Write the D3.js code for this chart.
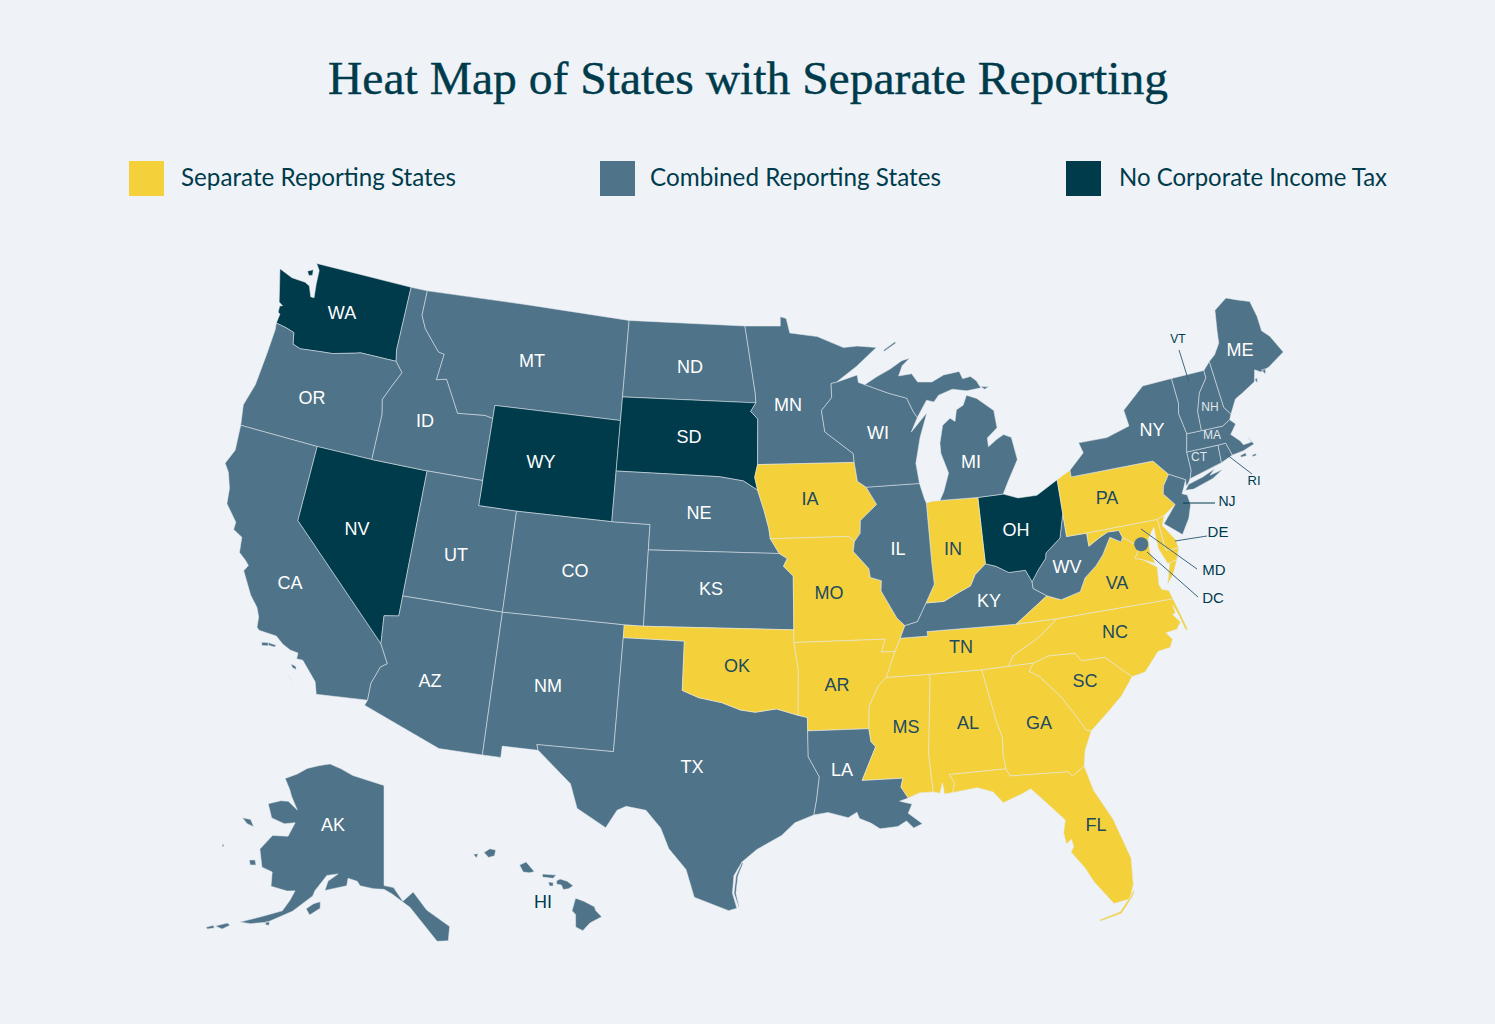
<!DOCTYPE html>
<html>
<head>
<meta charset="utf-8">
<script src="https://cdn.jsdelivr.net/npm/d3@7"></script>
<style>
  html, body { margin: 0; padding: 0; background: #eff3f8; }
</style>
</head>
<body>
<div id="chart"></div>
<script>
// tax groups
var separateStates = ["IA","IN","PA","MO","AR","OK","MS","AL","GA","FL","TN","SC","NC","VA","MD","DE"];
var combinedStates = ["OR","CA","ID","MT","UT","CO","AZ","NM","TX","ND","NE","KS","MN","WI","IL","MI","KY","WV","LA","NY","NJ","VT","NH","MA","CT","RI","ME","AK","HI","DC"];
var noTaxStates = ["WA","NV","WY","SD","OH"];

var legendLabels = ["Separate Reporting States","Combined Reporting States","No Corporate Income Tax"];
var titleText = "Heat Map of States with Separate Reporting";

// state outlines, lon/lat
var WA = [[-122.76,49],[-117.03,49],[-117.04,46.42],[-116.92,45.99],[-118.98,46],[-119.3,45.93],[-120.5,45.7],[-121.2,45.65],[-122.3,45.55],[-122.76,45.65],[-122.9,46.1],[-123.4,46.2],[-124,46.27],[-123.95,46.65],[-124.08,46.7],[-124.1,46.95],[-123.95,47],[-124.2,47.1],[-124.4,47.6],[-124.73,48.38],[-123.9,48.17],[-123.1,48.15],[-122.8,48.05],[-122.55,47.65],[-122.35,47.65],[-122.45,48.2],[-122.5,48.75]];
var WA_SANJUAN = [[-123.15,48.6],[-122.85,48.72],[-122.8,48.5],[-123,48.45]];
var OR = [[-124,46.27],[-123.4,46.2],[-122.9,46.1],[-122.76,45.65],[-122.3,45.55],[-121.2,45.65],[-120.5,45.7],[-119.3,45.93],[-118.98,46],[-116.92,45.99],[-116.46,45.6],[-116.85,45],[-117.2,44.4],[-117.03,43.83],[-117.03,42],[-120,42],[-124.21,42],[-124.4,42.8],[-124.1,43.7],[-124,45],[-123.95,46]];
var CA = [[-124.21,42],[-120,42],[-120,39],[-114.63,35],[-114.14,34.27],[-114.43,34.1],[-114.72,33.4],[-114.72,32.72],[-117.12,32.53],[-117.3,33],[-118.1,33.72],[-118.4,33.72],[-118.4,33.95],[-118.8,34],[-119.2,34.15],[-119.6,34.4],[-120.47,34.45],[-120.6,34.55],[-120.65,34.95],[-120.85,35.3],[-121.3,35.7],[-121.95,36.55],[-121.8,36.8],[-122,36.96],[-122.4,37.2],[-122.5,37.8],[-123,38],[-123,38.3],[-123.7,38.9],[-123.8,39.5],[-124.1,40.1],[-124.4,40.4],[-124.1,41]];
var CA_SANTACRUZ = [[-120.2,34.02],[-119.9,34.07],[-119.85,33.95],[-120.15,33.9]];
var CA_SANTAROSA = [[-119.9,34.07],[-119.5,34.05],[-119.55,33.97],[-119.85,33.97]];
var CA_CATALINA = [[-118.6,33.48],[-118.35,33.42],[-118.3,33.3],[-118.5,33.35]];
var CA_CLEMENTE = [[-118.6,33.03],[-118.4,32.85],[-118.35,32.8],[-118.55,32.98]];
var NV = [[-120,42],[-117.03,42],[-114.04,42],[-114.04,37],[-114.04,36.2],[-114.75,36.1],[-114.63,35],[-120,39]];
var ID = [[-117.03,49],[-116.05,49],[-116.05,48],[-115.7,47.5],[-114.7,46.7],[-114.35,46.65],[-114.5,45.6],[-113.95,45.7],[-113.45,45.05],[-113,44.45],[-111.5,44.55],[-111.05,44.48],[-111.05,42],[-114.04,42],[-117.03,42],[-117.03,43.83],[-117.2,44.4],[-116.85,45],[-116.46,45.6],[-116.92,45.99],[-117.04,46.42]];
var MT = [[-116.05,49],[-104.05,49],[-104.05,45.94],[-104.05,45],[-111.05,45],[-111.05,44.48],[-111.5,44.55],[-113,44.45],[-113.45,45.05],[-113.95,45.7],[-114.5,45.6],[-114.35,46.65],[-114.7,46.7],[-115.7,47.5],[-116.05,48]];
var WY = [[-111.05,45],[-104.05,45],[-104.05,43],[-104.05,41],[-109.05,41],[-111.05,41]];
var UT = [[-114.04,42],[-111.05,42],[-111.05,41],[-109.05,41],[-109.05,37],[-114.04,37]];
var CO = [[-109.05,41],[-104.05,41],[-102.05,41],[-102.05,40],[-102.05,37],[-103,37],[-109.05,37]];
var AZ = [[-114.04,37],[-109.05,37],[-109.05,31.33],[-111.07,31.33],[-114.81,32.5],[-114.72,32.72],[-114.72,33.4],[-114.43,34.1],[-114.14,34.27],[-114.63,35],[-114.75,36.1],[-114.04,36.2]];
var NM = [[-109.05,37],[-103,37],[-103,36.5],[-103.06,32],[-106.62,32],[-106.53,31.78],[-108.2,31.78],[-108.2,31.33],[-109.05,31.33]];
var TX = [[-106.62,32],[-103.06,32],[-103,36.5],[-100,36.5],[-100,34.56],[-99.2,34.3],[-98.1,34.13],[-97.2,33.85],[-96.5,33.77],[-95.5,33.9],[-94.48,33.64],[-94.04,33.55],[-94.04,33.02],[-94.04,32],[-93.55,31.2],[-93.7,30.3],[-93.84,29.7],[-94.7,29.4],[-95.3,28.9],[-96.4,28.35],[-97.05,27.85],[-97.4,27.3],[-97.45,26.6],[-97.25,26],[-97.6,25.9],[-99.1,26.4],[-99.5,27.5],[-100.3,28.3],[-100.7,29.1],[-101.4,29.77],[-102.3,29.88],[-102.7,29.7],[-103.15,28.98],[-104.5,29.65],[-104.9,30.6],[-106.53,31.78]];
var TX_PADRE = [[-97.05,27.82],[-97.3,27.3],[-97.38,26.6],[-97.17,26.05],[-97.15,26.05],[-97.3,26.6],[-97.22,27.3],[-97,27.8]];
var ND = [[-104.05,49],[-97.23,49],[-96.6,46.33],[-96.56,45.94],[-104.05,45.94]];
var SD = [[-104.05,45.94],[-96.56,45.94],[-96.85,45.6],[-96.45,45.3],[-96.45,43.5],[-96.6,43],[-96.44,42.49],[-97.2,42.85],[-98.5,43],[-104.05,43]];
var NE = [[-104.05,43],[-98.5,43],[-97.2,42.85],[-96.44,42.49],[-96.1,41.7],[-95.85,41],[-95.77,40.58],[-95.31,40],[-102.05,40],[-102.05,41],[-104.05,41]];
var KS = [[-102.05,40],[-95.31,40],[-94.9,39.8],[-95.1,39.5],[-94.61,39.11],[-94.62,37],[-102.05,37]];
var OK = [[-103,37],[-102.05,37],[-94.62,37],[-94.62,36.5],[-94.43,35.4],[-94.48,33.64],[-95.5,33.9],[-96.5,33.77],[-97.2,33.85],[-98.1,34.13],[-99.2,34.3],[-100,34.56],[-100,36.5],[-103,36.5]];
var MN = [[-97.23,49],[-95.15,49],[-95.15,49.38],[-94.8,49.3],[-94.6,48.72],[-93,48.55],[-91.5,48.07],[-90.7,48.1],[-89.6,48],[-90.8,47.3],[-92,46.7],[-92.3,46.66],[-92.3,46.1],[-92.9,45.6],[-92.75,44.75],[-91.25,43.85],[-91.22,43.5],[-96.45,43.5],[-96.45,45.3],[-96.85,45.6],[-96.56,45.94],[-96.6,46.33]];
var MI_ROYALE = [[-89.2,47.87],[-88.5,48.17],[-88.45,48.12],[-89.15,47.83]];
var IA = [[-96.45,43.5],[-91.22,43.5],[-91.1,42.75],[-90.65,42.5],[-90.15,41.8],[-91.05,41.2],[-91.1,40.7],[-91.42,40.38],[-91.7,40.6],[-95.77,40.58],[-95.85,41],[-96.1,41.7],[-96.44,42.49],[-96.6,43]];
var MO = [[-95.77,40.58],[-91.7,40.6],[-91.42,40.38],[-91.5,40],[-90.75,39.3],[-90.7,38.95],[-90.15,38.8],[-90.2,38.4],[-89.5,37.3],[-89.13,36.98],[-89.4,36.5],[-89.7,36],[-90.37,36],[-90.15,36.5],[-94.62,36.5],[-94.62,37],[-94.61,39.11],[-95.1,39.5],[-94.9,39.8],[-95.31,40]];
var AR = [[-94.62,36.5],[-90.15,36.5],[-90.37,36],[-89.7,36],[-90.2,35],[-90.6,34.7],[-91.1,33.9],[-91.17,33.02],[-94.04,33.02],[-94.04,33.55],[-94.48,33.64],[-94.43,35.4]];
var LA = [[-94.04,33.02],[-91.17,33.02],[-91.1,32.5],[-90.9,32.3],[-91.6,31],[-89.73,31],[-89.85,30.65],[-89.55,30.2],[-89.95,30.1],[-89.4,29.95],[-89.6,29.6],[-89.2,29.3],[-89,29.15],[-89.4,29],[-89.7,29.3],[-90.1,29.1],[-90.9,29.05],[-91.3,29.3],[-91.8,29.5],[-91.9,29.75],[-92.3,29.55],[-93.2,29.78],[-93.84,29.7],[-93.7,30.3],[-93.55,31.2],[-94.04,32]];
var MS = [[-90.2,35],[-88.2,35],[-88.1,34.9],[-88.47,31.9],[-88.4,30.37],[-89,30.38],[-89.55,30.2],[-89.85,30.65],[-89.73,31],[-91.6,31],[-90.9,32.3],[-91.1,32.5],[-91.17,33.02],[-91.1,33.9],[-90.6,34.7]];
var AL = [[-88.2,35],[-85.6,34.98],[-85.18,32.87],[-85,32.3],[-85.05,31.55],[-85,31],[-87.6,31],[-87.4,30.65],[-87.52,30.28],[-87.9,30.25],[-87.95,30.7],[-88.1,30.3],[-88.4,30.37],[-88.47,31.9],[-88.1,34.9]];
var GA = [[-85.6,34.98],[-84.32,35],[-83.1,35],[-83.35,34.7],[-82.9,34.45],[-82,33.5],[-81.4,32.6],[-81.1,32.1],[-80.87,32.03],[-81.3,31.3],[-81.45,30.7],[-82.05,30.37],[-82.2,30.57],[-84.86,30.7],[-85,31],[-85.05,31.55],[-85,32.3],[-85.18,32.87]];
var FL = [[-87.6,31],[-85,31],[-84.86,30.7],[-82.2,30.57],[-82.05,30.37],[-81.45,30.7],[-81.2,29.7],[-80.55,28.45],[-80.05,26.8],[-80.15,25.75],[-80.4,25.2],[-81.1,25.12],[-81.8,26.1],[-82.1,26.7],[-82.6,27.4],[-82.45,27.6],[-82.5,27.9],[-82.75,27.75],[-82.8,28.2],[-82.65,28.7],[-83.4,29.5],[-84,30.1],[-84.4,29.95],[-85.3,29.68],[-85.7,30.15],[-86.4,30.38],[-87.52,30.28],[-87.4,30.65]];
var FL_KEYS = [[-80.2,25.5],[-80.35,25.3],[-80.9,24.75],[-81.8,24.56],[-81.8,24.5],[-80.85,24.68],[-80.3,25.25],[-80.15,25.48]];
var SC = [[-83.1,35],[-82.3,35.2],[-81.05,35.15],[-80.8,34.82],[-79.67,34.8],[-78.55,33.86],[-79.2,33.2],[-79.9,32.7],[-80.87,32.03],[-81.1,32.1],[-81.4,32.6],[-82,33.5],[-82.9,34.45],[-83.35,34.7]];
var NC = [[-75.87,36.55],[-81.68,36.59],[-82.6,36],[-84,35.4],[-84.32,35],[-83.1,35],[-82.3,35.2],[-81.05,35.15],[-80.8,34.82],[-79.67,34.8],[-78.55,33.86],[-77.9,33.95],[-77.1,34.65],[-76.5,34.7],[-76.3,35],[-76.55,35.3],[-76,35.35],[-75.75,35.6],[-76.05,35.95],[-75.9,36],[-75.95,36.3],[-75.8,36],[-75.6,35.3],[-75.55,35.22],[-75.5,35.3],[-75.7,36]];
var TN = [[-89.7,36],[-89.4,36.5],[-88.05,36.5],[-88.07,36.68],[-83.68,36.6],[-81.68,36.59],[-82.6,36],[-84,35.4],[-84.32,35],[-85.6,34.98],[-88.2,35],[-90.2,35]];
var KY = [[-89.4,36.5],[-89.13,36.98],[-88.5,37.1],[-88,37.8],[-87.1,37.8],[-86.3,38.1],[-85.7,38.3],[-85.4,38.73],[-84.82,39.1],[-84.3,38.95],[-83.7,38.65],[-82.85,38.65],[-82.6,38.17],[-82.6,37.9],[-81.97,37.54],[-83.68,36.6],[-88.07,36.68],[-88.05,36.5]];
var VA = [[-83.68,36.6],[-81.97,37.54],[-81.3,37.3],[-80.3,37.5],[-79.95,38],[-79.3,38.4],[-78.87,38.77],[-78.35,39.4],[-77.83,39.14],[-77.72,39.32],[-77.1,38.9],[-77.04,38.7],[-77.3,38.4],[-76.95,38.3],[-76.3,37.9],[-76.4,37.2],[-76.3,37],[-75.98,36.9],[-75.87,36.55],[-81.68,36.59]];
var VA_SHORE = [[-75.97,37.15],[-75.65,37.95],[-75.25,38.03],[-75.6,37.5]];
var WV = [[-82.6,38.17],[-82.2,38.6],[-81.75,39],[-81.7,39.2],[-80.87,39.7],[-80.52,40.64],[-80.52,39.72],[-79.48,39.72],[-79.48,39.2],[-78.9,39.45],[-78.4,39.62],[-77.83,39.6],[-77.72,39.32],[-77.83,39.14],[-78.35,39.4],[-78.87,38.77],[-79.3,38.4],[-79.95,38],[-80.3,37.5],[-81.3,37.3],[-81.97,37.54],[-82.6,37.9]];
var OH = [[-84.8,41.72],[-83.45,41.73],[-82.7,41.5],[-81.7,41.5],[-80.52,41.98],[-80.52,40.64],[-80.87,39.7],[-81.7,39.2],[-81.75,39],[-82.2,38.6],[-82.6,38.17],[-82.85,38.65],[-83.7,38.65],[-84.3,38.95],[-84.82,39.1]];
var IN = [[-87.53,41.71],[-87.2,41.76],[-86.8,41.76],[-84.8,41.72],[-84.82,39.1],[-85.4,38.73],[-85.7,38.3],[-86.3,38.1],[-87.1,37.8],[-88,37.8],[-87.5,38.5],[-87.53,39.35]];
var IL = [[-90.65,42.5],[-87.8,42.5],[-87.6,41.85],[-87.53,41.71],[-87.53,39.35],[-87.5,38.5],[-88,37.8],[-88.5,37.1],[-89.13,36.98],[-89.5,37.3],[-90.2,38.4],[-90.15,38.8],[-90.7,38.95],[-90.75,39.3],[-91.5,40],[-91.42,40.38],[-91.1,40.7],[-91.05,41.2],[-90.15,41.8]];
var WI = [[-92.3,46.66],[-92,46.7],[-91.2,46.87],[-90.8,46.95],[-90.75,46.65],[-90.4,46.55],[-89.1,46.15],[-88.1,45.9],[-87.8,45.35],[-87.6,45.1],[-88,44.55],[-87.05,45.25],[-87.55,44.3],[-87.9,43.3],[-87.8,42.5],[-90.65,42.5],[-91.1,42.75],[-91.22,43.5],[-91.25,43.85],[-92.75,44.75],[-92.9,45.6],[-92.3,46.1]];
var MI_LOWER = [[-86.8,41.76],[-84.8,41.72],[-83.45,41.73],[-83.1,42.2],[-82.45,43],[-82.6,43.9],[-83,44.05],[-83.4,43.9],[-83.9,43.65],[-83.9,44],[-83.3,44.35],[-83.35,45.05],[-84.2,45.6],[-84.75,45.78],[-85,45.4],[-85.4,45.25],[-85.55,44.8],[-85.8,44.95],[-86.25,44.7],[-86.5,44],[-86.5,43.6],[-86.2,42.8],[-86.55,42.1]];
var MI_UPPER = [[-90.4,46.55],[-89.7,46.83],[-88.9,47.1],[-88.2,47.4],[-87.75,47.47],[-88.2,47.2],[-88.45,46.8],[-87.7,46.85],[-87.4,46.5],[-86.6,46.45],[-85.9,46.68],[-85,46.75],[-84.85,46.45],[-84.4,46.5],[-84.1,46.3],[-83.9,46],[-84.7,45.95],[-85.5,46.08],[-86.3,45.9],[-86.6,45.65],[-87,45.75],[-87.6,45.1],[-87.8,45.35],[-88.1,45.9],[-89.1,46.15]];
var MI_DRUMMOND = [[-83.9,46.05],[-83.45,46],[-83.7,45.93]];
var PA = [[-80.52,41.98],[-79.76,42.27],[-79.76,42],[-75.35,42],[-74.7,41.36],[-75.1,40.95],[-75.2,40.65],[-74.72,40.15],[-75.4,39.82],[-75.79,39.72],[-79.48,39.72],[-80.52,39.72],[-80.52,40.64]];
var NY = [[-79.76,42.27],[-78.9,42.85],[-79.05,43.27],[-77.5,43.27],[-76.2,43.55],[-76.3,44.2],[-75,44.98],[-73.35,45.01],[-73.3,44],[-73.43,43.6],[-73.26,42.75],[-73.5,42.05],[-73.5,41.3],[-73.66,41],[-73.8,40.85],[-73.95,40.75],[-73.9,41],[-74.7,41.36],[-75.35,42],[-79.76,42]];
var NY_LONG = [[-74.03,40.6],[-73.8,40.8],[-73,40.95],[-72.3,41.15],[-72.6,40.95],[-71.9,41.05],[-72.5,40.8],[-73.6,40.57]];
var NJ = [[-74.7,41.36],[-73.9,41],[-74.1,40.7],[-74.25,40.5],[-74,40.4],[-73.95,40],[-74.2,39.5],[-74.7,38.93],[-75.5,39.5],[-74.72,40.15],[-75.2,40.65],[-75.1,40.95]];
var DE = [[-75.79,39.72],[-75.4,39.82],[-75.6,39.45],[-75.1,38.8],[-75.05,38.45],[-75.7,38.46]];
var MD = [[-79.48,39.72],[-75.79,39.72],[-75.7,38.46],[-75.05,38.45],[-75.25,38.03],[-75.65,37.95],[-75.75,37.95],[-76.05,38.6],[-76.05,39.45],[-76.45,39.05],[-76.5,38.5],[-76.35,38.05],[-76.95,38.3],[-77.3,38.4],[-77.04,38.7],[-77.1,38.9],[-77.72,39.32],[-77.83,39.6],[-78.4,39.62],[-78.9,39.45],[-79.48,39.2]];
var CT = [[-73.5,42.05],[-71.8,42.02],[-71.86,41.32],[-73.66,41],[-73.5,41.3]];
var RI = [[-71.8,42.02],[-71.38,42.02],[-71.2,41.5],[-71.86,41.32]];
var MA = [[-73.26,42.75],[-72.46,42.73],[-71.3,42.7],[-70.85,42.87],[-70.6,42.65],[-71,42.3],[-70.6,41.95],[-70.5,41.78],[-70.05,41.8],[-70.2,42.07],[-69.95,41.7],[-70.6,41.55],[-71.2,41.5],[-71.38,42.02],[-71.8,42.02],[-73.5,42.05]];
var MA_NANTUCKET = [[-70.2,41.3],[-70,41.32],[-70,41.24],[-70.2,41.24]];
var MA_VINEYARD = [[-70.8,41.4],[-70.5,41.45],[-70.5,41.33],[-70.8,41.33]];
var VT = [[-73.35,45.01],[-71.5,45.01],[-71.5,44.7],[-72.05,44.2],[-72.4,43.5],[-72.46,42.73],[-73.26,42.75],[-73.43,43.6],[-73.3,44]];
var NH = [[-71.5,45.01],[-71.08,45.3],[-70.98,43.4],[-70.7,43.07],[-70.85,42.87],[-71.3,42.7],[-72.46,42.73],[-72.4,43.5],[-72.05,44.2],[-71.5,44.7]];
var ME = [[-71.08,45.3],[-70.7,45.5],[-70.3,45.9],[-70.2,46.4],[-70,47.2],[-69.2,47.55],[-68.6,47.35],[-67.95,47.15],[-67.8,46.5],[-67.8,45.9],[-67.45,45.6],[-67,44.85],[-68,44.45],[-68.5,44.35],[-68.8,44.5],[-69,44.05],[-69.8,43.75],[-70.25,43.6],[-70.7,43.07],[-70.98,43.4]];
var ME_ISLE = [[-68.45,44.42],[-68.2,44.42],[-68.3,44.22]];
var ME_HAUT = [[-68.95,44.12],[-68.8,44.17],[-68.85,43.97]];
var AK = [[-141,69.65],[-145,70.05],[-149.5,70.4],[-153,70.85],[-156.3,71.1],[-159,70.7],[-162,70.1],[-164,69.3],[-166.5,68.5],[-164.5,67.7],[-163.4,67.1],[-161.2,66.1],[-163.8,66.6],[-165.5,66.4],[-167.9,65.7],[-166,64.6],[-163,64.5],[-160.8,64.9],[-161.4,63.5],[-164.5,63.1],[-165.9,61.5],[-164.3,60],[-162.2,59.9],[-161.6,58.6],[-158.6,58.6],[-157.2,58.8],[-157.7,57.8],[-158.5,56.7],[-161.4,55.7],[-164.6,54.5],[-162.9,54.7],[-160.4,55.3],[-156.8,56.9],[-153.9,58.7],[-153.7,59.2],[-152,60.8],[-149.9,61.1],[-151.6,60.3],[-151.9,59.4],[-148,60.1],[-147.9,60.8],[-146.1,60.6],[-145.5,60.2],[-143,60],[-141,59.95],[-139.5,59.5],[-136.4,58.2],[-132.4,54.8],[-130.6,54.7],[-130,56],[-133.5,57.8],[-135.6,59.6],[-137.6,58.8],[-139.2,60.1],[-141,60.3]];
var AK_KODIAK = [[-152.4,58.3],[-152.2,57.7],[-153.8,56.9],[-154.6,57.4],[-153.5,58]];
var AK_NUNIVAK = [[-167,60.2],[-166,60.4],[-165.5,60],[-166.5,59.8]];
var AK_STLAWRENCE = [[-171.7,63.5],[-170,63.7],[-168.8,63.2],[-170.3,63.2]];
var AK_STMATTHEW = [[-172.9,60.55],[-172.4,60.4],[-172.7,60.25]];
var AK_FOX = [[-168,53.3],[-166.4,54],[-165.9,53.9],[-166.8,53.3]];
var AK_UMNAK = [[-169.2,52.85],[-168.3,53.3],[-168,53.1],[-168.9,52.75]];
var AK_SHUMAGIN = [[-160.6,55.35],[-160,55.35],[-160,55.05],[-160.6,55.05]];
var HI_BIG = [[-155.9,20.25],[-155.55,20.13],[-155.1,19.9],[-155.05,19.75],[-154.8,19.5],[-155.3,19.25],[-155.6,18.95],[-155.9,19.1],[-155.9,19.6],[-156.05,19.75]];
var HI_MAUI = [[-156.7,20.95],[-156.55,21.02],[-156.25,20.93],[-156,20.75],[-156.2,20.63],[-156.42,20.6],[-156.5,20.78],[-156.7,20.82]];
var HI_LANAI = [[-157.05,20.9],[-156.85,20.88],[-156.85,20.74],[-157,20.74]];
var HI_MOLOKAI = [[-157.3,21.22],[-156.72,21.18],[-156.85,21.05],[-157.3,21.1]];
var HI_OAHU = [[-158.28,21.58],[-158,21.71],[-157.65,21.32],[-157.85,21.27],[-158.12,21.3]];
var HI_KAUAI = [[-159.8,22.08],[-159.55,22.23],[-159.3,22.18],[-159.35,21.95],[-159.6,21.88]];
var HI_NIIHAU = [[-160.25,22],[-160.05,22.02],[-160.12,21.85]];

var stateShapes = {
  WA:[WA,WA_SANJUAN], OR:[OR], CA:[CA,CA_SANTACRUZ,CA_SANTAROSA,CA_CATALINA,CA_CLEMENTE], NV:[NV], ID:[ID], MT:[MT], WY:[WY], UT:[UT], CO:[CO], AZ:[AZ], NM:[NM], TX:[TX,TX_PADRE],
  ND:[ND], SD:[SD], NE:[NE], KS:[KS], OK:[OK], MN:[MN], IA:[IA], MO:[MO], AR:[AR], LA:[LA], MS:[MS], AL:[AL],
  GA:[GA], FL:[FL,FL_KEYS], SC:[SC], NC:[NC], TN:[TN], KY:[KY], VA:[VA,VA_SHORE], WV:[WV], OH:[OH], IN:[IN], IL:[IL],
  WI:[WI], MI:[MI_LOWER,MI_UPPER,MI_DRUMMOND,MI_ROYALE], PA:[PA], NY:[NY,NY_LONG], NJ:[NJ], DE:[DE], MD:[MD], CT:[CT], RI:[RI],
  MA:[MA,MA_NANTUCKET,MA_VINEYARD], VT:[VT], NH:[NH], ME:[ME,ME_ISLE,ME_HAUT],
  AK:[AK,AK_KODIAK,AK_NUNIVAK,AK_STLAWRENCE,AK_STMATTHEW,AK_FOX,AK_UMNAK,AK_SHUMAGIN],
  HI:[HI_BIG,HI_MAUI,HI_LANAI,HI_MOLOKAI,HI_OAHU,HI_KAUAI,HI_NIIHAU]
};
var dcPoint = [-76.85, 38.9];

// hand placed annotation layout, page pixels
var labelLayout = [
  ["WA",342,313,18],["OR",312,398,18],["CA",290,583,18],["NV",357,529,18],["ID",425,421,18],["MT",532,361,18],
  ["WY",541,462,18],["UT",456,555,18],["CO",575,571,18],["AZ",430,681,18],["NM",548,686,18],["ND",690,367,18],
  ["SD",689,437,18],["NE",699,513,18],["KS",711,589,18],["OK",737,666,18],["TX",692,767,18],["MN",788,405,18],
  ["IA",810,499,18],["MO",829,593,18],["AR",837,685,18],["LA",842,770,18],["WI",878,433,18],["IL",898,549,18],
  ["IN",953,549,18],["MI",971,462,18],["OH",1016,530,18],["KY",989,601,18],["TN",961,647,18],["MS",906,727,18],
  ["AL",968,723,18],["GA",1039,723,18],["FL",1096,825,18],["SC",1085,681,18],["NC",1115,632,18],["VA",1117,583,18],
  ["WV",1067,567,18],["PA",1107,498,18],["NY",1152,430,18],["ME",1240,350,18],["AK",333,825,18],["HI",543,902,18],
  ["NH",1210,407,12],["MA",1212,435,12],["CT",1199,457,12]
];
var calloutLayout = [
  ["VT",1178,339,12,1179,350,1189,382],["RI",1254,480,13,1252,474,1226,454],["NJ",1227,501,14,1215,503,1183,503],
  ["DE",1218,532,15,1207,536,1175,541],["MD",1214,570,15,1197,569,1141,529],["DC",1213,598,15,1198,597,1147,552]
];
var legendLayout = [[129,181,275],[600,650,291],[1066,1119,268]];

var colorSeparate = "#f4d13b", colorCombined = "#4f7389", colorNoTax = "#003b4c", colorOnYellow = "#1d4a60", background = "#eff3f8";

var width = 1495, height = 1024;

var svg = d3.select("#chart").append("svg")
    .attr("width", width)
    .attr("height", height)
    .style("display", "block")
    .style("background", background);

var mainProjection = d3.geoAlbers().rotate([96,0]).center([-0.6,38.7]).parallels([29.5,45.5]).scale(1467).translate([754,594]);
var akProjection = d3.geoConicEqualArea().rotate([141,0]).center([0,65]).parallels([55,65]).scale(615).translate([384,835]);
var hiProjection = d3.geoConicEqualArea().rotate([157,0]).center([-1,20.5]).parallels([8,18]).scale(1435).translate([526,892]);

// the source map is a little flatter than plain albers
var squash = d3.geoTransform({
  point: function(x, y) { this.stream.point(x, y * 0.9858 + 1.1); }
});
var mainPath = d3.geoPath({
  stream: function(s) { return mainProjection.stream(squash.stream(s)); }
});

function pathFor(code) {
  if (code == "AK") return d3.geoPath(akProjection);
  if (code == "HI") return d3.geoPath(hiProjection);
  return mainPath;
}

function colorFor(code) {
  if (separateStates.indexOf(code) >= 0) return colorSeparate;
  if (noTaxStates.indexOf(code) >= 0) return colorNoTax;
  return colorCombined;
}

// rings typed clockwise or not, d3 wants the small side
function toFeature(code) {
  var polys = stateShapes[code].map(function(ring) {
    var closed = ring.concat([ring[0]]);
    if (d3.geoArea({type:"Polygon", coordinates:[closed]}) > 2 * Math.PI) closed = closed.slice().reverse();
    return [closed];
  });
  return {type:"Feature", id:code, geometry:{type:"MultiPolygon", coordinates:polys}};
}

var features = Object.keys(stateShapes).map(toFeature);

svg.append("g").selectAll("path")
    .data(features)
    .join("path")
    .attr("d", function(d) { return pathFor(d.id)(d); })
    .attr("fill", function(d) { return colorFor(d.id); })
    .attr("stroke", "#e4e9ee")
    .attr("stroke-opacity", 0.75)
    .attr("stroke-width", 0.7)
    .attr("stroke-linejoin", "round");

var dcXY = mainPath.centroid({type:"Point", coordinates:dcPoint});
svg.append("circle")
    .attr("cx", dcXY[0])
    .attr("cy", dcXY[1])
    .attr("r", 7)
    .attr("fill", colorCombined);

// title
svg.append("text")
    .attr("x", 748)
    .attr("y", 94)
    .attr("text-anchor", "middle")
    .attr("font-family", "'Liberation Serif', serif")
    .attr("font-size", 47)
    .attr("textLength", 840)
    .attr("lengthAdjust", "spacingAndGlyphs")
    .attr("fill", colorNoTax)
    .attr("stroke", colorNoTax)
    .attr("stroke-width", 0.4)
    .text(titleText);

// legend
var legendColors = [colorSeparate, colorCombined, colorNoTax];
legendLabels.forEach(function(label, i) {
  var l = legendLayout[i];
  svg.append("rect").attr("x", l[0]).attr("y", 161).attr("width", 35).attr("height", 35).attr("fill", legendColors[i]);
  svg.append("text")
      .attr("x", l[1])
      .attr("y", 186)
      .attr("font-family", "Lato, sans-serif")
      .attr("font-size", 25)
      .attr("textLength", l[2])
      .attr("lengthAdjust", "spacingAndGlyphs")
      .attr("fill", colorNoTax)
      .text(label);
});

// state labels
svg.append("g").selectAll("text")
    .data(labelLayout)
    .join("text")
    .attr("x", function(d) { return d[1]; })
    .attr("y", function(d) { return d[2]; })
    .attr("dy", "0.36em")
    .attr("text-anchor", "middle")
    .attr("font-family", "'Liberation Sans', Arial, sans-serif")
    .attr("font-size", function(d) { return d[3]; })
    .attr("fill", function(d) {
      if (colorFor(d[0]) == colorSeparate) return colorOnYellow;
      return d[0] == "HI" ? colorNoTax : "#ffffff";
    })
    .attr("fill-opacity", function(d) { return d[3] < 18 ? 0.85 : 1; })
    .text(function(d) { return d[0]; });

// small states with a leader line
var callouts = svg.append("g").selectAll("g")
    .data(calloutLayout)
    .join("g");
callouts.append("line")
    .attr("x1", function(d) { return d[4]; })
    .attr("y1", function(d) { return d[5]; })
    .attr("x2", function(d) { return d[6]; })
    .attr("y2", function(d) { return d[7]; })
    .attr("stroke", function(d) { return d[0] == "NJ" ? colorNoTax : "#3f677e"; })
    .attr("stroke-width", 1);
callouts.append("text")
    .attr("x", function(d) { return d[1]; })
    .attr("y", function(d) { return d[2]; })
    .attr("dy", "0.36em")
    .attr("text-anchor", "middle")
    .attr("font-family", "'Liberation Sans', Arial, sans-serif")
    .attr("font-size", function(d) { return d[3]; })
    .attr("fill", colorNoTax)
    .text(function(d) { return d[0]; });
</script>
</body>
</html>
